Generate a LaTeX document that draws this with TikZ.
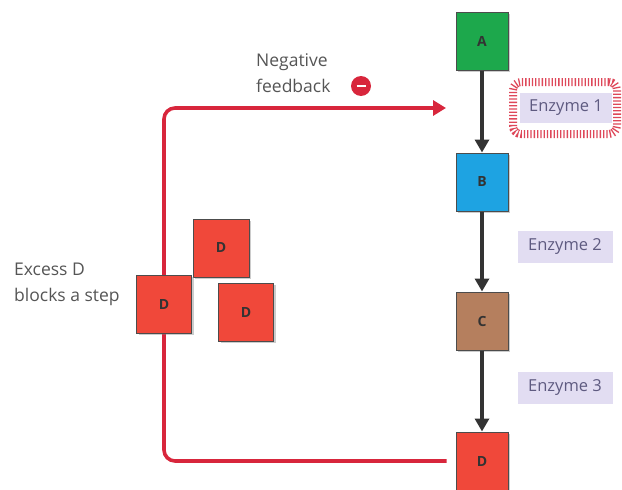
\documentclass[tikz,border=0pt]{standalone}
\usepackage{fontspec}
\setmainfont{Open Sans}
\usetikzlibrary{arrows.meta,shadows}
\definecolor{agreen}{HTML}{1DA84C}
\definecolor{bblue}{HTML}{1EA3E2}
\definecolor{cbrown}{HTML}{B57F5E}
\definecolor{dred}{HTML}{F0483A}
\definecolor{fbred}{HTML}{D8263C}
\definecolor{lav}{HTML}{E2DDF2}
\definecolor{txtgray}{HTML}{555555}
\definecolor{enzt}{HTML}{5E5A80}
\tikzset{
  mol/.style={draw=black!70, line width=1pt, minimum width=52pt, minimum height=58pt,
    inner sep=0pt, font=\bfseries\fontsize{14}{16}\selectfont, text=black!80,
    drop shadow={shadow xshift=2pt,shadow yshift=-2pt,opacity=0.4}},
  enz/.style={fill=lav, text=enzt, font=\fontsize{16.5}{18}\selectfont, minimum width=95pt,
    minimum height=32pt, inner sep=2pt},
  flow/.style={draw=black!80, line width=4pt, -{Triangle[length=13pt,width=14pt]}},
  fb/.style={draw=fbred, line width=3.6pt, rounded corners=11pt},
  lbl/.style={text=txtgray, font=\fontsize{17.5}{26}\selectfont, align=left}
}
\begin{document}
\begin{tikzpicture}[x=1pt,y=-1pt]
\useasboundingbox (0,0) rectangle (622,490);
% pathway boxes
\node[mol, fill=agreen] (A) at (482,41) {A};
\node[mol, fill=bblue] (B) at (482,182) {B};
\node[mol, fill=cbrown] (C) at (482,321) {C};
\node[mol, fill=dred] (Dd) at (482,461) {D};
% enzymes
\node[draw=fbred!85, fill=white, line width=8pt, dash pattern=on 1.3pt off 2pt, rounded corners=8pt,
  minimum width=104pt, minimum height=52pt] (E1b) at (565,108) {};
\node[enz, minimum width=92pt, minimum height=30pt] (E1) at (566,108) {Enzyme 1};
\node[enz] (E2) at (565,247) {Enzyme 2};
\node[enz] (E3) at (565,388) {Enzyme 3};
% flow arrows
\draw[flow] (A) -- (B);
\draw[flow] (B) -- (C);
\draw[flow] (C) -- (Dd);
% feedback loop
\coordinate (fbl) at (164,108);
\coordinate (fbtip) at (446,108);
\draw[fb] ([xshift=-9pt]Dd.west) -| (fbl) -- ([xshift=-10pt]fbtip);
\draw[draw=fbred, line width=3.6pt, -{Triangle[length=13pt,width=15pt]}] ([xshift=-14pt]fbtip) -- (fbtip);
% excess D
\node[mol, fill=dred, minimum width=56pt] (D2) at (221,248) {D};
\node[mol, fill=dred, minimum width=55pt] (D1) at (164,304) {D};
\node[mol, fill=dred, minimum width=55pt] (D3) at (246,312) {D};
% labels
\node[lbl, anchor=west, inner sep=0pt] (neg) at (256,73) {Negative\\feedback};
\node[circle, fill=fbred, minimum size=20pt, inner sep=0pt] (minus) at (361,86) {};
\draw[white, line width=1.6pt] ([xshift=-4.5pt]minus.center) -- ([xshift=4.5pt]minus.center);
\node[lbl, anchor=west, inner sep=0pt] (exc) at (14,284) {Excess D\\blocks a step};
\end{tikzpicture}
\end{document}
